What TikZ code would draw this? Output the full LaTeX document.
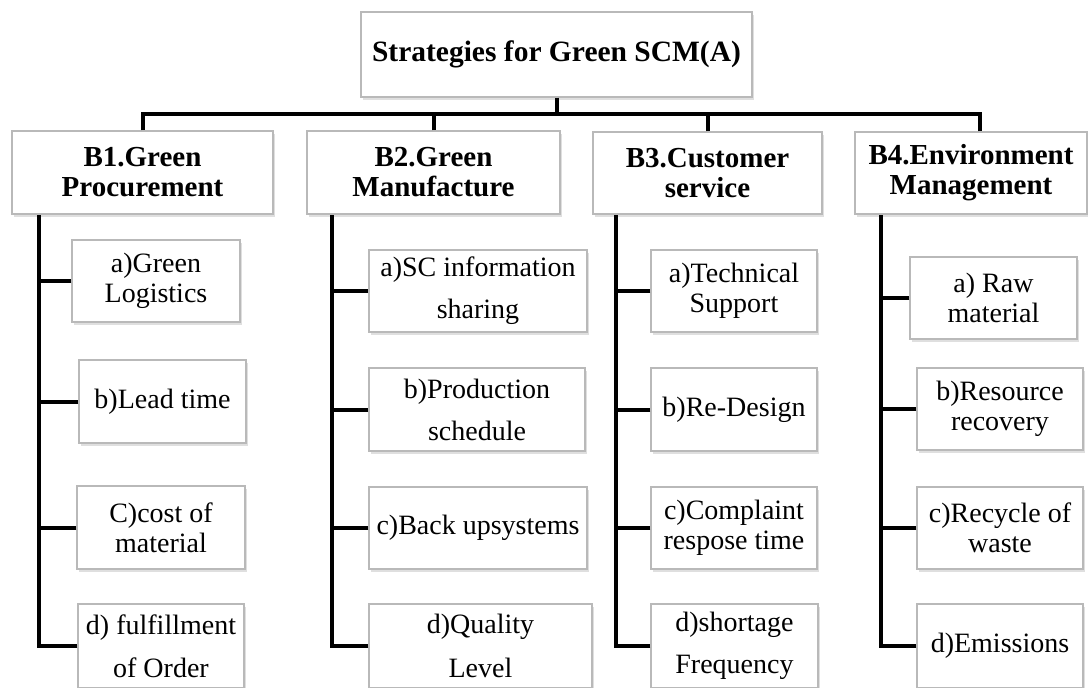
\documentclass[tikz,border=0pt]{standalone}
\usepackage{fontspec}
\setmainfont{Liberation Serif}
\usetikzlibrary{shadows}
\tikzset{
  stratbox/.style={draw=gray!55, line width=1.2pt, fill=white, inner sep=0pt,
    align=center, drop shadow={shadow xshift=1.5pt, shadow yshift=-2.5pt, opacity=0.25},
    font=\fontsize{29}{30}\selectfont\bfseries}
}
\tikzset{
  itembox/.style={stratbox, font=\fontsize{28}{30}\selectfont}
}
\tikzset{
  link/.style={line width=4pt, line join=miter}
}

\begin{document}
\begin{tikzpicture}[x=1pt, y=-1pt]
  \useasboundingbox (0,0) rectangle (1088,688);
  % root
  \node[stratbox, minimum width=391, minimum height=85, font=\fontsize{29.5}{31}\selectfont\bfseries]
    (title) at (556.5,54.5) {Strategies for Green SCM(A)};
  % strategy headers
  \node[stratbox, minimum width=261, minimum height=83] (pro) at (142.5,172.5) {B1.Green\\Procurement};
  \node[stratbox, minimum width=253, minimum height=83] (man) at (433.5,172.5) {B2.Green\\Manufacture};
  \node[stratbox, minimum width=229, minimum height=82] (cus) at (707.5,173) {B3.Customer\\service};
  \node[stratbox, minimum width=232, minimum height=82] (env) at (971,173) {B4.Environment\\Management};
  % B1 items
  \node[itembox, minimum width=168, minimum height=82] (pro-a) at (156,281) {a)Green\\Logistics};
  \node[itembox, minimum width=167, minimum height=83] (pro-b) at (162.5,401.5) {b)Lead time};
  \node[itembox, minimum width=168, minimum height=83] (pro-c) at (161,527.5) {C)cost of\\material};
  \node[itembox, minimum width=166, minimum height=84] (pro-d) at (161,646) {d) fulfillment\\[13pt]of Order};
  % B2 items
  \node[itembox, minimum width=218, minimum height=82] (man-a) at (478,291) {a)SC information\\[12pt]sharing};
  \node[itembox, minimum width=216, minimum height=83] (man-b) at (477,409.5) {b)Production\\[12pt]schedule};
  \node[itembox, minimum width=218, minimum height=82] (man-c) at (478,528) {c)Back upsystems};
  \node[itembox, minimum width=223, minimum height=84] (man-d) at (480.5,646) {d)Quality\\[14pt]Level};
  % B3 items
  \node[itembox, minimum width=166, minimum height=82] (cus-a) at (734,291) {a)Technical\\Support};
  \node[itembox, minimum width=166, minimum height=83] (cus-b) at (734,409.5) {b)Re-Design};
  \node[itembox, minimum width=166, minimum height=82] (cus-c) at (734,528) {c)Complaint\\respose time};
  \node[itembox, minimum width=167, minimum height=84] (cus-d) at (734.5,646) {d)shortage\\[12pt]Frequency};
  % B4 items
  \node[itembox, minimum width=167, minimum height=82] (env-a) at (993.5,298) {a) Raw\\material};
  \node[itembox, minimum width=166, minimum height=82] (env-b) at (1000,409) {b)Resource\\recovery};
  \node[itembox, minimum width=166, minimum height=82] (env-c) at (1000,528) {c)Recycle of\\waste};
  \node[itembox, minimum width=166, minimum height=84] (env-d) at (1000,646) {d)Emissions};
  % bus from root to headers
  \coordinate (bus) at ([yshift=-16pt]title.south);
  \draw[link] (title.south) -- (bus);
  \foreach \h in {pro,man,cus}
    \draw[link] (\h.north) |- (bus);
  \draw[link] ([xshift=9pt]env.north) |- (bus);
  % trunks to items
  \foreach \h/\dx in {pro/28,man/26,cus/24,env/27} {
    \foreach \k in {a,b,c,d}
      \draw[link] (\h-\k.west) -| ([xshift=\dx pt]\h.south west);
  }
\end{tikzpicture}
\end{document}
